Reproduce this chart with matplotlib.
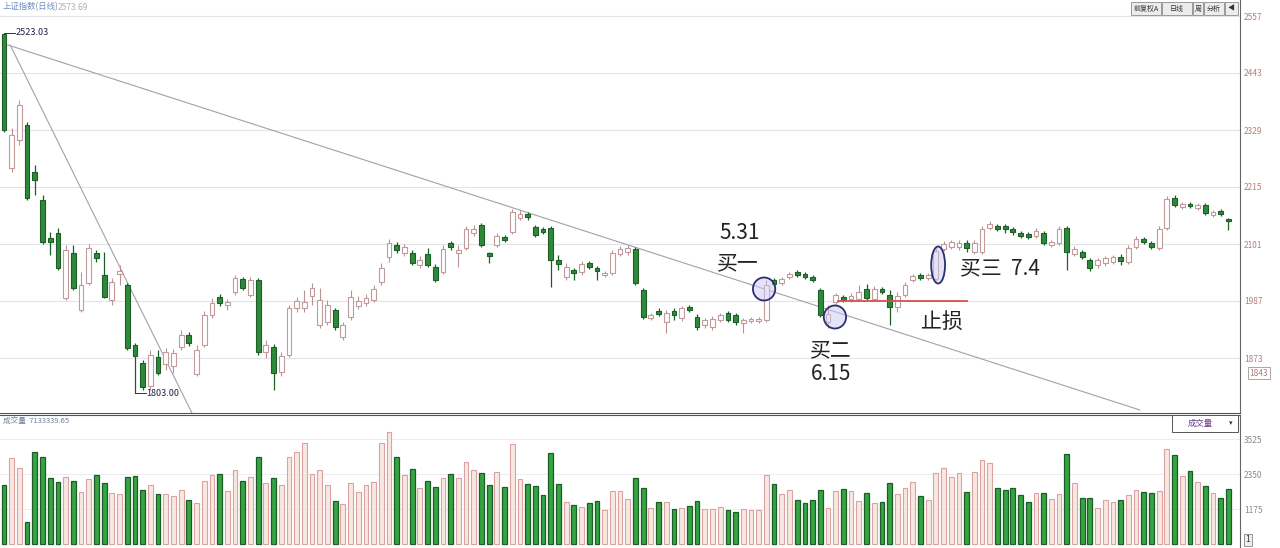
import matplotlib.pyplot as plt
import numpy as np
from matplotlib.patches import Ellipse, Rectangle

plt.rcParams['font.family'] = ['Noto Sans CJK SC', 'DejaVu Sans']

# daily candles (index points)
opens = [2521, 2253, 2309, 2339, 2245, 2189, 2113, 2123, 1993, 2083,
         1969, 2023, 2083, 2039, 1989, 2041, 2019, 1899, 1863, 1817,
         1875, 1861, 1857, 1895, 1919, 1841, 1899, 1959, 1995, 1979,
         2005, 2031, 1999, 2029, 1885, 1895, 1845, 1879, 1973, 1973,
         1997, 1939, 1945, 1969, 1915, 1955, 1977, 1983, 1989, 2025,
         2075, 2099, 2083, 2083, 2059, 2081, 2055, 2045, 2103, 2083,
         2093, 2123, 2139, 2083, 2099, 2115, 2125, 2153, 2161, 2135,
         2131, 2133, 2069, 2035, 2049, 2045, 2063, 2053, 2039, 2043,
         2081, 2085, 2091, 2009, 1953, 1967, 1945, 1967, 1953, 1975,
         1955, 1939, 1935, 1949, 1963, 1959, 1943, 1947, 1947, 1949,
         2029, 2023, 2035, 2045, 2041, 2035, 2009, 1945, 1985, 1995,
         1991, 1991, 2011, 1991, 2011, 1999, 1975, 1999, 2029, 2039,
         2033, 2031, 2091, 2095, 2095, 2103, 2085, 2085, 2133, 2137,
         2137, 2131, 2123, 2121, 2117, 2123, 2099, 2103, 2133, 2081,
         2085, 2069, 2059, 2063, 2065, 2075, 2065, 2095, 2111, 2103,
         2093, 2133, 2193, 2175, 2181, 2173, 2179, 2159, 2167, 2151]
highs = [2523.03, 2333, 2389, 2345, 2259, 2199, 2125, 2133, 2099, 2099,
         2045, 2101, 2089, 2085, 2033, 2059, 2023, 1903, 1869, 1889,
         1889, 1893, 1891, 1929, 1925, 1899, 1967, 1993, 2001, 1991,
         2039, 2035, 2035, 2033, 1909, 1901, 1885, 1979, 1995, 2009,
         2023, 2013, 1989, 1973, 1945, 2009, 1997, 2001, 2019, 2063,
         2111, 2105, 2101, 2089, 2077, 2093, 2061, 2099, 2107, 2099,
         2137, 2139, 2143, 2085, 2123, 2119, 2171, 2169, 2165, 2139,
         2135, 2137, 2079, 2063, 2053, 2067, 2067, 2057, 2047, 2089,
         2097, 2099, 2095, 2013, 1963, 1973, 1969, 1973, 1977, 1979,
         1961, 1953, 1957, 1963, 1967, 1963, 1953, 1955, 1955, 2029,
         2033, 2035, 2045, 2049, 2045, 2039, 2013, 1979, 2003, 1999,
         2003, 2019, 2021, 2017, 2015, 2009, 2005, 2025, 2041, 2043,
         2043, 2093, 2107, 2109, 2109, 2109, 2109, 2137, 2147, 2141,
         2141, 2135, 2127, 2125, 2133, 2127, 2109, 2137, 2137, 2097,
         2089, 2073, 2073, 2077, 2079, 2081, 2099, 2117, 2115, 2107,
         2137, 2197, 2199, 2185, 2185, 2183, 2183, 2169, 2171, 2153]
lows = [2325, 2245, 2299, 2189, 2199, 2101, 2079, 2049, 1989, 2009,
        1965, 2019, 2065, 1993, 1979, 2019, 1889, 1803, 1809, 1809,
        1839, 1849, 1843, 1889, 1897, 1837, 1895, 1953, 1977, 1969,
        1999, 2009, 1995, 1879, 1873, 1809, 1837, 1875, 1965, 1965,
        1979, 1933, 1939, 1929, 1909, 1949, 1971, 1977, 1985, 2019,
        2065, 2083, 2077, 2059, 2053, 2055, 2025, 2041, 2089, 2055,
        2089, 2117, 2095, 2063, 2095, 2105, 2121, 2149, 2149, 2115,
        2121, 2015, 2049, 2029, 2029, 2039, 2051, 2029, 2035, 2039,
        2077, 2079, 2019, 1951, 1949, 1957, 1923, 1949, 1947, 1965,
        1929, 1933, 1929, 1945, 1945, 1939, 1923, 1943, 1943, 1945,
        2017, 2019, 2031, 2035, 2031, 2025, 1955, 1933, 1979, 1985,
        1985, 1987, 1989, 1987, 2001, 1939, 1965, 1995, 2025, 2029,
        2029, 2027, 2087, 2091, 2089, 2085, 2081, 2081, 2129, 2127,
        2123, 2119, 2113, 2111, 2113, 2099, 2095, 2099, 2049, 2077,
        2071, 2047, 2053, 2057, 2061, 2059, 2061, 2091, 2101, 2091,
        2089, 2129, 2175, 2171, 2173, 2169, 2159, 2155, 2157, 2129]
closes = [2329, 2319, 2379, 2193, 2229, 2105, 2105, 2053, 2089, 2013,
          2019, 2093, 2073, 1995, 2025, 2047, 1893, 1877, 1815, 1879,
          1843, 1885, 1883, 1919, 1903, 1889, 1959, 1983, 1983, 1985,
          2033, 2013, 2029, 1885, 1899, 1843, 1877, 1973, 1987, 1985,
          2013, 1989, 1979, 1935, 1939, 1995, 1987, 1993, 2011, 2053,
          2103, 2089, 2095, 2063, 2069, 2059, 2029, 2091, 2095, 2089,
          2131, 2131, 2099, 2077, 2117, 2109, 2165, 2161, 2155, 2119,
          2125, 2069, 2061, 2055, 2043, 2061, 2055, 2047, 2043, 2083,
          2091, 2093, 2023, 1955, 1959, 1961, 1963, 1959, 1973, 1969,
          1935, 1949, 1951, 1959, 1949, 1945, 1949, 1951, 1951, 2019,
          2021, 2031, 2041, 2039, 2035, 2029, 1959, 1961, 1999, 1989,
          1997, 2005, 1993, 2011, 2005, 1975, 1997, 2019, 2037, 2033,
          2039, 2087, 2101, 2105, 2103, 2093, 2103, 2131, 2141, 2131,
          2131, 2125, 2117, 2115, 2127, 2103, 2105, 2131, 2085, 2091,
          2075, 2053, 2069, 2073, 2075, 2067, 2093, 2111, 2105, 2095,
          2131, 2191, 2179, 2181, 2177, 2179, 2163, 2165, 2161, 2147]
volumes = [1980, 2890, 2550, 740, 3090, 2920, 2220, 2080, 2250, 2120,
           1750, 2180, 2320, 2050, 1710, 1680, 2250, 2280, 1810, 1980,
           1680, 1680, 1610, 1810, 1480, 1380, 2120, 2320, 2350, 1780,
           2490, 2120, 2250, 2920, 2050, 2220, 1980, 2920, 3090, 3390,
           2350, 2490, 1980, 1440, 1340, 2050, 1750, 1980, 2080, 3390,
           3760, 2920, 2320, 2520, 1880, 2120, 1920, 2220, 2350, 2220,
           2760, 2490, 2390, 1980, 2420, 1920, 3360, 2180, 2020, 1950,
           1650, 3060, 2020, 1410, 1310, 1240, 1380, 1440, 1140, 1780,
           1780, 1510, 2220, 1880, 1210, 1410, 1410, 1180, 1210, 1280,
           1440, 1180, 1180, 1240, 1140, 1080, 1180, 1140, 1140, 2320,
           2020, 1680, 1810, 1480, 1380, 1480, 1810, 1210, 1780, 1850,
           1780, 1440, 1710, 1380, 1410, 2050, 1680, 1880, 2080, 1610,
           1480, 2390, 2550, 2250, 2390, 1750, 2420, 2820, 2720, 1880,
           1810, 1880, 1650, 1410, 1710, 1710, 1510, 1680, 3020, 2050,
           1550, 1550, 1210, 1480, 1410, 1480, 1650, 1810, 1750, 1710,
           1780, 3190, 2990, 2280, 2450, 2080, 1950, 1710, 1550, 1850]

price_ticks = [1873, 1987, 2101, 2215, 2329, 2443, 2557]
vol_ticks = [1175, 2350, 3525]

# hand-drawn marks: trend lines, circles, stop line, notes
trend_long = ([0.5, 147.5], [2499, 1769])
trend_steep = ([0.8, 24.4], [2499, 1763])
buy_marks = [(98.7, 2011, 2.9, 46), (107.9, 1955, 2.9, 46), (121.3, 2059, 1.8, 74)]
stop_line = ([108.3, 125.0], [1987, 1987])
notes = [(95.5, 2123, '5.31'), (95.3, 2063, '买一'), (107.4, 1889, '买二'),
         (107.4, 1841, '6.15'), (121.8, 1945, '止损')]

o = np.array(opens, float)
h = np.array(highs, float)
l = np.array(lows, float)
c = np.array(closes, float)
v = np.array(volumes, float)
x = np.arange(len(o))
up = c >= o

fig = plt.figure(figsize=(12.8, 5.48), dpi=100)
ax = fig.add_axes([0, 135 / 548, 1240 / 1280, 413 / 548])
axv = fig.add_axes([0, 0, 1240 / 1280, 133 / 548])

# ---- price panel
ax.set_xlim(-0.52, 160.5)
ax.set_ylim(1763, 2589)
ax.set_xticks([])
ax.set_yticks(price_ticks)
ax.set_yticklabels([str(t) for t in price_ticks])
ax.yaxis.tick_right()
ax.tick_params(axis='y', length=0, labelsize=6, labelcolor='#b87c7c', pad=3)
ax.grid(axis='y', color='#e3e3ea', lw=0.8)
ax.set_axisbelow(True)
for s in ['top', 'left']:
    ax.spines[s].set_visible(False)
ax.spines['bottom'].set_color('#555555')
ax.spines['right'].set_color('#666666')

ax.vlines(x[up], l[up], h[up], color='#b99393', lw=0.8, zorder=2)
ax.vlines(x[~up], l[~up], h[~up], color='#1d5e27', lw=0.9, zorder=2)
body_lo = np.minimum(o, c)
body_h = np.maximum(np.abs(c - o), 1.5)
ax.bar(x[up], body_h[up], bottom=body_lo[up], width=0.62, facecolor='white',
       edgecolor='#c29a9a', linewidth=0.8, zorder=3)
ax.bar(x[~up], body_h[~up], bottom=body_lo[~up], width=0.62, facecolor='#2e8a3b',
       edgecolor='#1d5e27', linewidth=0.8, zorder=3)

ax.plot(*trend_long, color='#a2a2a8', lw=0.8, zorder=1)
ax.plot(*trend_steep, color='#a2a2a8', lw=0.8, zorder=1)
ax.plot(*stop_line, color='#d65050', lw=1.3, zorder=5)
for cx, cy, w, hh in buy_marks:
    ax.add_patch(Ellipse((cx, cy), w, hh, facecolor=(0.80, 0.79, 0.96, 0.5),
                         edgecolor='#2b2f6e', lw=1.3, zorder=6))
for tx, ty, s in notes:
    ax.text(tx, ty, s, fontsize=15, ha='center', va='center', color='#222222', zorder=7)
ax.text(124.2, 2053, '买三  7.4', fontsize=15, ha='left', va='center', color='#222222', zorder=7)

# high / low markers
ih = int(np.argmax(h))
il = int(np.argmin(l))
ax.plot([ih, ih + 1.4], [h[ih], h[ih]], color='#333', lw=0.7)
ax.text(ih + 1.5, h[ih], '%.2f' % h[ih], fontsize=6.5, va='center', color='#222244')
ax.plot([il, il + 1.4], [l[il], l[il]], color='#333', lw=0.7)
ax.text(il + 1.5, l[il], '%.2f' % l[il], fontsize=6.5, va='center', color='#222244')

# ---- volume panel
axv.set_xlim(-0.52, 160.5)
axv.set_ylim(-134, 4334)
axv.set_xticks([])
axv.set_yticks(vol_ticks)
axv.set_yticklabels([str(t) for t in vol_ticks])
axv.yaxis.tick_right()
axv.tick_params(axis='y', length=0, labelsize=6, labelcolor='#8a8a8a', pad=3)
axv.grid(axis='y', color='#ececf0', lw=0.7)
axv.set_axisbelow(True)
for s in ['bottom', 'left']:
    axv.spines[s].set_visible(False)
axv.spines['top'].set_color('#555555')
axv.spines['right'].set_color('#666666')
axv.bar(x[up], v[up], width=0.62, facecolor='#f8e8e2', edgecolor='#dba2a2', linewidth=0.8)
axv.bar(x[~up], v[~up], width=0.62, facecolor='#36a443', edgecolor='#1b5e25', linewidth=0.9)

# ---- window chrome
def px(xp, yp):
    return xp / 1280, 1 - yp / 548

fig.text(*px(3, 7), '上证指数(日线)', fontsize=6, color='#6d8cc2', va='center')
fig.text(*px(58, 7), '2573.69', fontsize=6, color='#b0b0b0', va='center')
fig.text(*px(3, 421), '成交量  7133339.65', fontsize=5.5, color='#6d7fa0', va='center')

tools = [(1131, 30, '前复权A'), (1162, 30, '日线'), (1193, 10, '周'), (1204, 20, '分析'), (1225, 13, '◀')]
for tx0, tw, lab in tools:
    fig.add_artist(Rectangle(px(tx0, 15), tw / 1280, 13 / 548, transform=fig.transFigure,
                             facecolor='#ececec', edgecolor='#8a8a8a', lw=0.6))
    fig.text(*px(tx0 + tw / 2, 8.5), lab, fontsize=5, ha='center', va='center', color='#333')

fig.add_artist(Rectangle(px(1172, 432), 66 / 1280, 17 / 548, transform=fig.transFigure,
                         facecolor='white', edgecolor='#555', lw=0.7))
fig.text(*px(1200, 423.5), '成交量', fontsize=6, ha='center', va='center', color='#6a3a8a')
fig.text(*px(1231, 423.5), '▾', fontsize=5, ha='center', va='center', color='#333')
fig.text(*px(1259, 373), '1843', fontsize=6, ha='center', va='center', color='#b87c7c',
         bbox=dict(boxstyle='square,pad=0.2', fc='white', ec='#999', lw=0.6))
fig.text(*px(1248, 540), '1', fontsize=6, ha='center', va='center', color='#333',
         bbox=dict(boxstyle='square,pad=0.2', fc='#eeeeee', ec='#888', lw=0.6))

fig.savefig('out.png', dpi=100)
